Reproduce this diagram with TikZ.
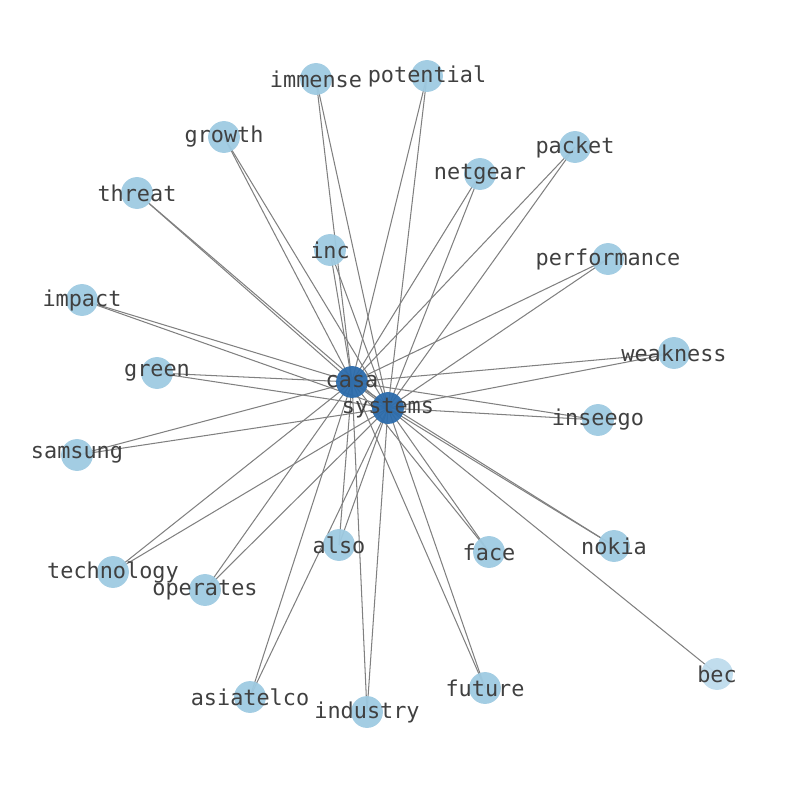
\documentclass[tikz,border=0pt]{standalone}
\usepackage{fontspec}
\setmonofont{DejaVu Sans Mono}
\usepackage{tikz}
\usetikzlibrary{backgrounds}

\definecolor{lightnode}{RGB}{158,202,225}
\definecolor{darknode}{RGB}{44,108,172}
\definecolor{palenode}{RGB}{190,219,236}
\definecolor{labelgray}{RGB}{64,64,64}
\definecolor{edgegray}{RGB}{128,128,128}

\tikzset{
  word/.style={circle, minimum size=23pt, inner sep=0pt, fill=lightnode, fill opacity=0.95,
    label={[text=labelgray, text opacity=1, inner sep=0pt,
      font=\ttfamily\fontsize{15.8}{18}\selectfont]center:#1}},
  hub/.style={word=#1, fill=darknode},
  faint/.style={word=#1, fill=palenode},
  link/.style={draw=edgegray, line width=0.75pt}
}

\begin{document}
\begin{tikzpicture}[x=0.0254cm, y=-0.0254cm]
\useasboundingbox (0,0) rectangle (794,790);
% hubs
	\node[hub=systems] (systems) at (388,408) {};
	\node[hub=casa] (casa) at (352,382) {};
% words around them
	\node[word=immense] (immense) at (316,79) {};
	\node[word=potential] (potential) at (427,76) {};
	\node[word=growth] (growth) at (224,137) {};
	\node[word=packet] (packet) at (575,147) {};
	\node[word=netgear] (netgear) at (480,174) {};
	\node[word=threat] (threat) at (137,193) {};
	\node[word=inc] (inc) at (330,250) {};
	\node[word=performance] (performance) at (608,259) {};
	\node[word=impact] (impact) at (82,300) {};
	\node[word=weakness] (weakness) at (674,353) {};
	\node[word=green] (green) at (157,373) {};
	\node[word=inseego] (inseego) at (598,420) {};
	\node[word=samsung] (samsung) at (77,455) {};
	\node[word=also] (also) at (339,545) {};
	\node[word=face] (face) at (489,552) {};
	\node[word=nokia] (nokia) at (614,546) {};
	\node[word=technology] (technology) at (113,572) {};
	\node[word=operates] (operates) at (205,590) {};
	\node[word=future] (future) at (485,688) {};
	\node[faint=bec] (bec) at (717,674) {};
	\node[word=asiatelco] (asiatelco) at (250,697) {};
	\node[word=industry] (industry) at (367,712) {};

\begin{scope}[on background layer]
	\draw[link] (casa.center) -- (systems.center);
	\draw[link] (immense.center) -- (casa.center);
	\draw[link] (immense.center) -- (systems.center);
	\draw[link] (potential.center) -- (casa.center);
	\draw[link] (potential.center) -- (systems.center);
	\draw[link] (growth.center) -- (casa.center);
	\draw[link] (growth.center) -- (systems.center);
	\draw[link] (packet.center) -- (casa.center);
	\draw[link] (packet.center) -- (systems.center);
	\draw[link] (netgear.center) -- (casa.center);
	\draw[link] (netgear.center) -- (systems.center);
	\draw[link] (threat.center) -- (casa.center);
	\draw[link] (threat.center) -- (systems.center);
	\draw[link] (inc.center) -- (casa.center);
	\draw[link] (inc.center) -- (systems.center);
	\draw[link] (performance.center) -- (casa.center);
	\draw[link] (performance.center) -- (systems.center);
	\draw[link] (impact.center) -- (casa.center);
	\draw[link] (impact.center) -- (systems.center);
	\draw[link] (weakness.center) -- (casa.center);
	\draw[link] (weakness.center) -- (systems.center);
	\draw[link] (green.center) -- (casa.center);
	\draw[link] (green.center) -- (systems.center);
	\draw[link] (inseego.center) -- (casa.center);
	\draw[link] (inseego.center) -- (systems.center);
	\draw[link] (samsung.center) -- (casa.center);
	\draw[link] (samsung.center) -- (systems.center);
	\draw[link] (also.center) -- (casa.center);
	\draw[link] (also.center) -- (systems.center);
	\draw[link] (face.center) -- (casa.center);
	\draw[link] (face.center) -- (systems.center);
	\draw[link] (nokia.center) -- (casa.center);
	\draw[link] (nokia.center) -- (systems.center);
	\draw[link] (technology.center) -- (casa.center);
	\draw[link] (technology.center) -- (systems.center);
	\draw[link] (operates.center) -- (casa.center);
	\draw[link] (operates.center) -- (systems.center);
	\draw[link] (future.center) -- (casa.center);
	\draw[link] (future.center) -- (systems.center);
	\draw[link] (asiatelco.center) -- (casa.center);
	\draw[link] (asiatelco.center) -- (systems.center);
	\draw[link] (industry.center) -- (casa.center);
	\draw[link] (industry.center) -- (systems.center);
	% bec only hangs off systems
	\draw[link] (bec.center) -- (systems.center);
\end{scope}
\end{tikzpicture}
\end{document}
